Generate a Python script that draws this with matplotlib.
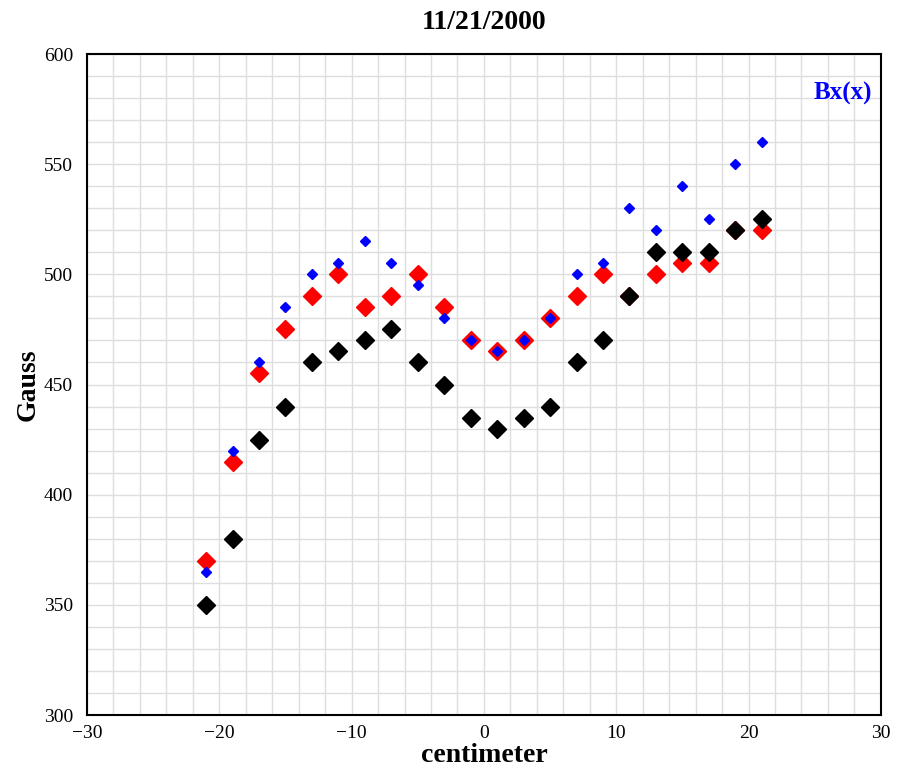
import matplotlib
matplotlib.use('Agg')
import matplotlib.pyplot as plt
from matplotlib.ticker import MultipleLocator

# positions (cm)
x = [-21, -19, -17, -15, -13, -11, -9, -7, -5, -3, -1, 1, 3, 5, 7, 9, 11, 13, 15, 17, 19, 21]

# field values (Gauss)
blue = [365, 420, 460, 485, 500, 505, 515, 505, 495, 480, 470, 465, 470, 480, 500, 505, 530, 520, 540, 525, 550, 560]
red = [370, 415, 455, 475, 490, 500, 485, 490, 500, 485, 470, 465, 470, 480, 490, 500, 490, 500, 505, 505, 520, 520]
black = [350, 380, 425, 440, 460, 465, 470, 475, 460, 450, 435, 430, 435, 440, 460, 470, 490, 510, 510, 510, 520, 525]

plt.rcParams['font.family'] = ['Liberation Serif', 'DejaVu Serif']

fig = plt.figure(figsize=(8.97, 7.76), dpi=100)
ax = fig.add_axes([0.097, 0.0786, 0.885, 0.8518])

ax.plot(x, red, 'D', color='red', markersize=8.8, linestyle='none', zorder=3)
ax.plot(x, black, 'D', color='black', markersize=8.8, linestyle='none', zorder=4)
ax.plot(x, blue, 'D', color='blue', markersize=5.4, linestyle='none', zorder=5)

ax.set_xlim(-30, 30)
ax.set_ylim(300, 600)
ax.xaxis.set_major_locator(MultipleLocator(10))
ax.xaxis.set_minor_locator(MultipleLocator(2))
ax.yaxis.set_major_locator(MultipleLocator(50))
ax.yaxis.set_minor_locator(MultipleLocator(10))
ax.grid(True, which='both', color='#dedede', linewidth=1.0)
ax.set_axisbelow(True)
ax.tick_params(which='both', direction='in', labelsize=14, color='#bbbbbb')
ax.tick_params(axis='x', which='major', length=0, pad=7)
ax.tick_params(axis='y', which='major', length=0, pad=10)
ax.tick_params(which='minor', length=0)
for s in ax.spines.values():
    s.set_linewidth(1.5)

ax.set_title('11/21/2000', fontsize=20, fontweight='bold', pad=18)
ax.set_xlabel('centimeter', fontsize=20, fontweight='bold', labelpad=1)
ax.set_ylabel('Gauss', fontsize=20, fontweight='bold')
ax.yaxis.set_label_coords(-0.058, 0.5)
ax.text(0.989, 0.94, 'Bx(x)', transform=ax.transAxes, fontsize=18, fontweight='bold',
        color='blue', ha='right', va='center')

fig.savefig('out.png', dpi=100)
